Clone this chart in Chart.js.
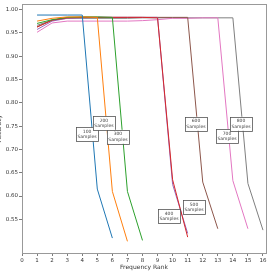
<!DOCTYPE html>
<html>
<head>
<meta charset="utf-8">
<script src="https://cdn.jsdelivr.net/npm/chart.js@4.4.0/dist/chart.umd.min.js"></script>
<style>
  html, body { margin: 0; padding: 0; background: #fff; overflow: hidden; }
  #wrap { position: relative; width: 278px; height: 271px; overflow: hidden; }
  #myChart { position: absolute; left: -4px; top: 0; }
</style>
</head>
<body>
<div id="wrap"><canvas id="myChart" width="282" height="271"></canvas></div>
<script>
// accuracy per frequency rank, one list per sample size (rank starts at 1)
const sampleSizes = [100, 200, 300, 400, 500, 600, 700, 800];
const acc100 = [0.988, 0.988, 0.988, 0.988, 0.615, 0.51];
const acc200 = [0.975, 0.981, 0.984, 0.984, 0.983, 0.61, 0.503];
const acc300 = [0.970, 0.978, 0.983, 0.984, 0.984, 0.983, 0.61, 0.505];
const acc400 = [0.962, 0.977, 0.982, 0.983, 0.983, 0.983, 0.983, 0.983, 0.982, 0.635, 0.512];
const acc500 = [0.957, 0.975, 0.981, 0.982, 0.983, 0.983, 0.983, 0.983, 0.983, 0.625, 0.52];
const acc600 = [0.963, 0.977, 0.982, 0.983, 0.983, 0.983, 0.983, 0.983, 0.983, 0.983, 0.983, 0.63, 0.53];
const acc700 = [0.951, 0.971, 0.975, 0.975, 0.975, 0.975, 0.975, 0.976, 0.978, 0.981, 0.981, 0.982, 0.982, 0.633, 0.53];
const acc800 = [0.966, 0.977, 0.981, 0.981, 0.981, 0.981, 0.981, 0.982, 0.982, 0.982, 0.982, 0.982, 0.982, 0.982, 0.627, 0.527];
const allAcc = [acc100, acc200, acc300, acc400, acc500, acc600, acc700, acc800];

// where the "N Samples" boxes sit, in data units
const noteX = [4.32, 5.44, 6.37, 9.76, 11.42, 11.55, 13.61, 14.54];
const noteY = [0.732, 0.756, 0.727, 0.557, 0.576, 0.755, 0.728, 0.755];

const xTicks = [0, 1, 2, 3, 4, 5, 6, 7, 8, 9, 10, 11, 12, 13, 14, 15, 16];
const yTicks = [0.55, 0.60, 0.65, 0.70, 0.75, 0.80, 0.85, 0.90, 0.95, 1.00];

const colors = ['#1f77b4', '#ff7f0e', '#2ca02c', '#d62728', '#9467bd', '#8c564b', '#e377c2', '#7f7f7f'];
const fontFam = 'DejaVu Sans';

const datasets = allAcc.map((arr, i) => ({
    label: sampleSizes[i] + ' Samples',
    data: arr.map((v, j) => ({ x: j + 1, y: v })),
    borderColor: colors[i],
    borderWidth: 1,
    pointRadius: 0,
    tension: 0,
    fill: false
}));

// matplotlib-like frame and the little text boxes
const framePlugin = {
    id: 'frame',
    afterDatasetsDraw(chart) {
        const { ctx, chartArea: a, scales } = chart;
        ctx.save();
        ctx.strokeStyle = '#999';
        ctx.lineWidth = 1;
        ctx.strokeRect(Math.round(a.left) + 0.5, Math.round(a.top) + 0.5,
            Math.round(a.right - a.left), Math.round(a.bottom - a.top));

        ctx.font = '4.5px ' + fontFam;
        ctx.textAlign = 'center';
        ctx.textBaseline = 'middle';
        sampleSizes.forEach((s, i) => {
            const cx = scales.x.getPixelForValue(noteX[i]);
            const cy = scales.y.getPixelForValue(noteY[i]);
            const w = 22, h = 14;
            ctx.fillStyle = '#fff';
            ctx.fillRect(cx - w / 2, cy - h / 2, w, h);
            ctx.strokeStyle = '#555';
            ctx.lineWidth = 0.8;
            ctx.strokeRect(Math.round(cx - w / 2) + 0.5, Math.round(cy - h / 2) + 0.5, w, h);
            ctx.fillStyle = '#444';
            ctx.fillText(String(s), cx, cy - 2.6);
            ctx.fillText('Samples', cx, cy + 2.6);
        });
        ctx.restore();
    }
};

const ctx = document.getElementById('myChart').getContext('2d');
new Chart(ctx, {
    type: 'line',
    data: { datasets: datasets },
    options: {
        responsive: false,
        maintainAspectRatio: false,
        animation: false,
        layout: { padding: { top: 3, right: 12, left: 0, bottom: 0 } },
        plugins: {
            legend: { display: false },
            tooltip: { enabled: false }
        },
        scales: {
            x: {
                type: 'linear',
                min: 0,
                max: 16.2,
                afterBuildTicks: s => { s.ticks = xTicks.map(v => ({ value: v })); },
                afterFit: s => { s.height = 18; },
                grid: { display: true, drawOnChartArea: false, tickLength: 3, color: '#444', tickWidth: 0.7 },
                border: { display: false },
                ticks: { font: { family: fontFam, size: 5.5 }, color: '#333', padding: 1, maxRotation: 0, autoSkip: false },
                title: { display: true, text: 'Frequency Rank', font: { family: fontFam, size: 6 }, color: '#333', padding: { top: 0, bottom: 0 } }
            },
            y: {
                min: 0.478,
                max: 1.011,
                afterBuildTicks: s => { s.ticks = yTicks.map(v => ({ value: v })); },
                afterFit: s => { s.width = 26; },
                grid: { display: true, drawOnChartArea: false, tickLength: 3, color: '#444', tickWidth: 0.7 },
                border: { display: false },
                ticks: { font: { family: fontFam, size: 5.5 }, color: '#333', padding: 1, callback: v => v.toFixed(2) },
                title: { display: true, text: 'Accuracy', font: { family: fontFam, size: 6 }, color: '#333', padding: 0 }
            }
        }
    },
    plugins: [framePlugin]
});
</script>
</body>
</html>
